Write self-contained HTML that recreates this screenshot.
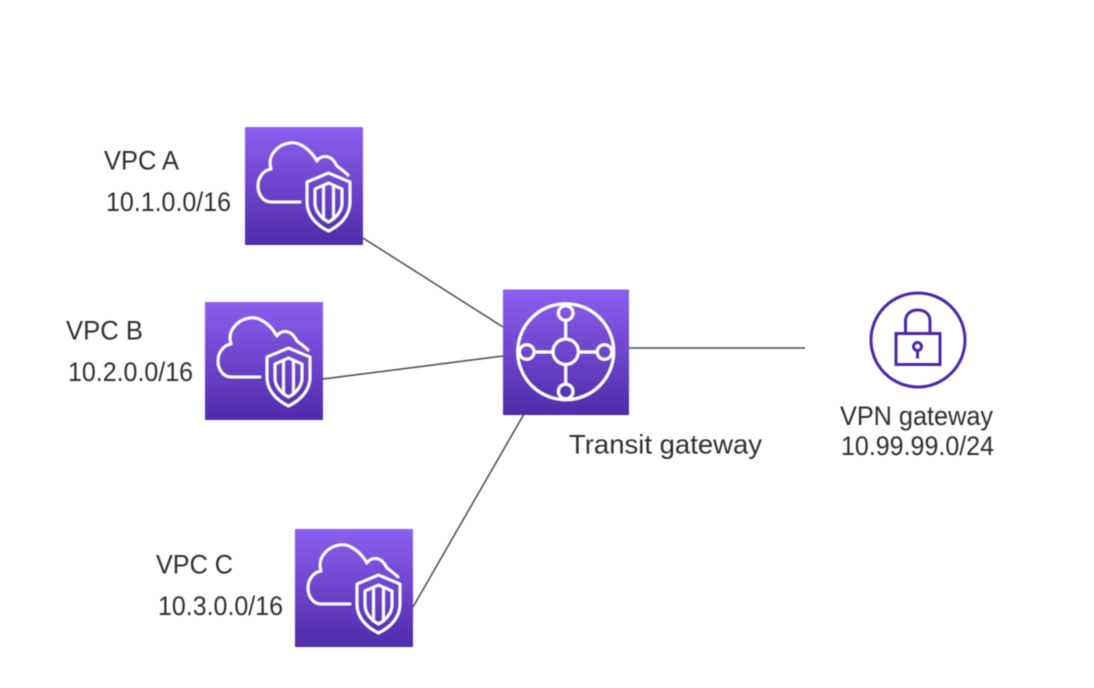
<!DOCTYPE html>
<html>
<head>
<meta charset="utf-8">
<style>
html,body{margin:0;padding:0;background:#fff;width:1094px;height:688px;overflow:hidden}
svg{display:block}
text{font-family:"Liberation Sans",sans-serif;font-size:26.5px;fill:#2e2e2e;filter:url(#b2)}
</style>
</head>
<body>
<svg width="1094" height="688" viewBox="0 0 1094 688" xmlns="http://www.w3.org/2000/svg">
<defs>
<linearGradient id="g" x1="0" y1="0" x2="0" y2="1">
<stop offset="0" stop-color="#8c5ff0"/>
<stop offset="1" stop-color="#4f2ca8"/>
</linearGradient>
<filter id="b" x="-5%" y="-5%" width="110%" height="110%"><feGaussianBlur stdDeviation="0.5"/></filter>
<filter id="b2" x="-5%" y="-10%" width="110%" height="120%"><feGaussianBlur stdDeviation="0.55"/></filter>
<g id="vpc">
<rect x="0" y="0" width="118" height="118" fill="url(#g)"/>
<g fill="none" stroke="#fff" stroke-width="2.8" stroke-linejoin="round" stroke-linecap="round">
<path d="M55 75H26C18 75 13 67 13 59C13 50 19 43 26 42C24 35 25 30 29 25C35 17 47 13 56 18C62 21 68 27 72 34C75 29 82 28 87 32C90 35 91 37 92 39C96 42 100 45 103 48"/>
<path d="M83.5 46L105 55V75C105 88 96 98 83.5 104C71 98 62 88 62 75V55Z"/>
<path d="M83.5 56L97 62V76C97 84 91 91 83.5 95C76 91 70 84 70 76V62Z"/>
<path d="M78.5 59V92M88.5 59V92"/>
</g>
</g>
</defs>
<g filter="url(#b)">
<g stroke="#4a4a4a" stroke-width="1.5" fill="none">
<path d="M363 238L503 327"/>
<path d="M323 379L503 356"/>
<path d="M413 607L524 414"/>
<path d="M629 348H805"/>
</g>
<use href="#vpc" x="245" y="127"/>
<use href="#vpc" x="205" y="302"/>
<use href="#vpc" x="295" y="529"/>
<rect x="503" y="289.5" width="126" height="125.5" fill="url(#g)"/>
<g fill="none" stroke="#fff" stroke-width="3">
<circle cx="565.7" cy="351.7" r="48"/>
<circle cx="565.7" cy="351.7" r="12.7"/>
<circle cx="565.7" cy="313" r="7.3"/>
<circle cx="565.7" cy="391.5" r="7.3"/>
<circle cx="526.7" cy="352" r="7.3"/>
<circle cx="604.5" cy="352" r="7.3"/>
<path d="M565.7 320.3V339M565.7 364.4V384.2M534 352H553M578.4 352H597.2"/>
</g>
<g fill="none" stroke="#4d27a8" stroke-width="3">
<circle cx="918" cy="340" r="47"/>
<rect x="896" y="333.5" width="44" height="31"/>
<path d="M905.5 333.5V321C905.5 314 911 310 917.8 310C924.6 310 930 314 930 321V333.5"/>
<circle cx="917.5" cy="346.5" r="4"/>
<path d="M917.5 350.5V358.5"/>
</g>
</g>
<text x="104" y="169.5" textLength="75" lengthAdjust="spacingAndGlyphs">VPC A</text>
<text x="106" y="211" textLength="125" lengthAdjust="spacingAndGlyphs">10.1.0.0/16</text>
<text x="66" y="339.5" textLength="77" lengthAdjust="spacingAndGlyphs">VPC B</text>
<text x="68" y="381" textLength="125" lengthAdjust="spacingAndGlyphs">10.2.0.0/16</text>
<text x="156" y="573.5" textLength="77" lengthAdjust="spacingAndGlyphs">VPC C</text>
<text x="158" y="615" textLength="125" lengthAdjust="spacingAndGlyphs">10.3.0.0/16</text>
<text x="569" y="453.5" textLength="193" lengthAdjust="spacingAndGlyphs">Transit gateway</text>
<text x="840" y="425" textLength="153" lengthAdjust="spacingAndGlyphs">VPN gateway</text>
<text x="841" y="455" textLength="153" lengthAdjust="spacingAndGlyphs">10.99.99.0/24</text>
</svg>
</body>
</html>
